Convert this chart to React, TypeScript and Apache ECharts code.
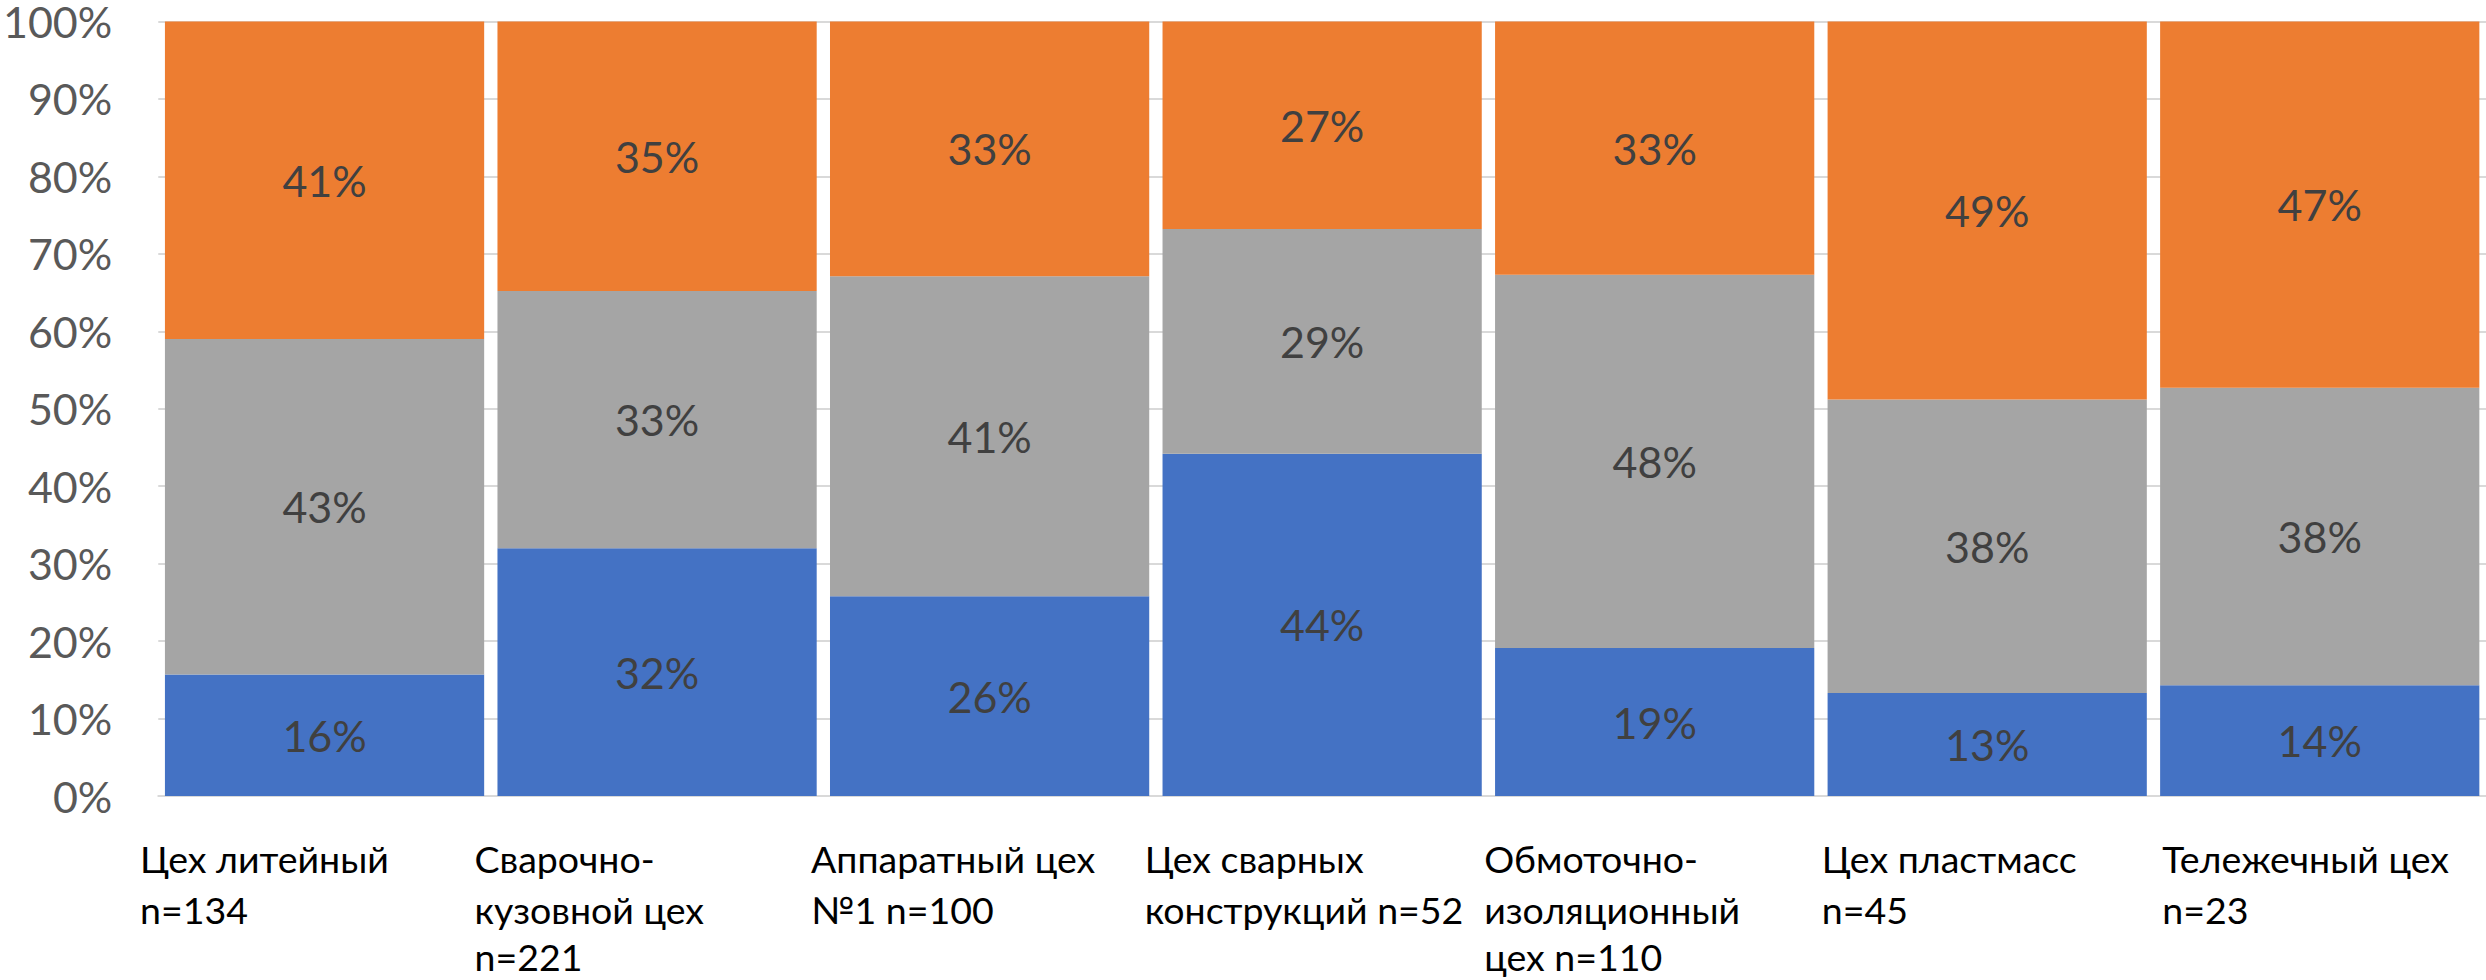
import React, { useEffect, useRef } from "react";
import * as echarts from "echarts";

const categories = [
  "Цех литейный\nn=134",
  "Сварочно-\nкузовной цех\nn=221",
  "Аппаратный цех\n№1 n=100",
  "Цех сварных\nконструкций n=52",
  "Обмоточно-\nизоляционный\nцех n=110",
  "Цех пластмасс\nn=45",
  "Тележечный цех\nn=23",
];

const blueValues = [15.7, 32.0, 25.8, 44.2, 19.1, 13.3, 14.3];
const grayValues = [43.3, 33.2, 41.3, 29.0, 48.2, 37.9, 38.4];
const orangeValues = [41.0, 34.8, 32.9, 26.8, 32.7, 48.8, 47.3];

const yTicks = [0, 10, 20, 30, 40, 50, 60, 70, 80, 90, 100];

const FONT = "Lato, 'Open Sans', sans-serif";
const labelBoxWidths = [369, 365, 357, 355, 341, 331, 315];

export default function App() {
  const ref = useRef<HTMLDivElement>(null);
  useEffect(() => {
    if (!ref.current) return;
    const chart = echarts.init(ref.current, undefined, { renderer: "svg" });
    const rich: Record<string, any> = {};
    labelBoxWidths.forEach((w, i) => {
      const base = {
        width: w,
        align: "left",
        fontSize: 37.5,
        color: "#000000",
        fontFamily: FONT,
      };
      rich["c" + i] = { ...base, lineHeight: 51 };
      rich["l" + i] = { ...base, lineHeight: 43 };
    });
    const dataLabel = {
      show: true,
      position: "inside",
      color: "#404040",
      fontSize: 43,
      fontFamily: FONT,
      formatter: (p: any) => Math.round(p.value) + "%",
    };
    const mk = (name: string, data: number[], color: string) => ({
      name,
      type: "bar",
      stack: "total",
      data,
      barCategoryGap: "4%",
      itemStyle: { color },
      label: dataLabel,
    });
    chart.setOption({
      animation: false,
      backgroundColor: "#ffffff",
      grid: { left: 153, top: 17.5, width: 2338, height: 778.5, containLabel: false },
      xAxis: {
        type: "category",
        data: categories,
        axisLine: { show: true, lineStyle: { color: "#D9D9D9", width: 2 } },
        axisTick: { show: false },
        axisLabel: {
          interval: 0,
          margin: 37,
          align: "center",
          verticalAlign: "top",
          formatter: (v: string, i: number) =>
            v
              .split("\n")
              .map((l, k) => (k === 2 ? `{l${i}|${l}}` : `{c${i}|${l}}`))
              .join("\n"),
          rich,
        },
      },
      yAxis: {
        type: "value",
        min: yTicks[0],
        max: yTicks[yTicks.length - 1],
        interval: 10,
        axisLine: { show: false },
        axisTick: { show: false },
        splitLine: { lineStyle: { color: "#D9D9D9", width: 2 } },
        axisLabel: {
          margin: 46,
          color: "#595959",
          fontSize: 43,
          lineHeight: 30,
          fontFamily: FONT,
          formatter: "{value}%",
        },
      },
      series: [
        mk("Синий", blueValues, "#4472C4"),
        mk("Серый", grayValues, "#A5A5A5"),
        mk("Оранжевый", orangeValues, "#ED7D31"),
      ],
    });
    return () => chart.dispose();
  }, []);
  return (
    <div
      ref={ref}
      style={{ position: "fixed", left: 0, top: 0, width: 2486, height: 980 }}
    />
  );
}
